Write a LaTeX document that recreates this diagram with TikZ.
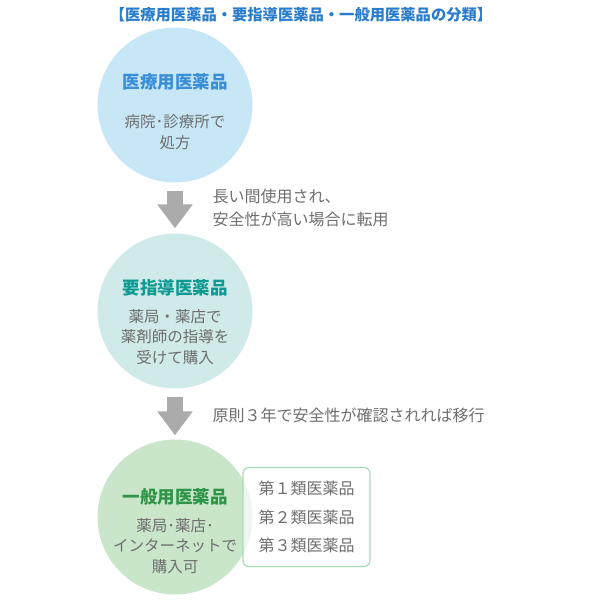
\documentclass[tikz,border=0pt]{standalone}
\usepackage{fontspec}
\setmainfont{Noto Sans CJK JP}
\usepackage{tikz}
\usetikzlibrary{arrows.meta,positioning}

\definecolor{titleblue}{HTML}{2A7DCC}
\definecolor{headblue}{HTML}{3A8ED6}
\definecolor{headteal}{HTML}{0E9A92}
\definecolor{headgreen}{HTML}{2E9447}
\definecolor{fillblue}{HTML}{C7E7F7}
\definecolor{fillteal}{HTML}{CFEAE8}
\definecolor{fillgreen}{HTML}{C9E6CB}
\definecolor{boxline}{HTML}{A9DAB6}
\definecolor{arrowgray}{HTML}{ABABAB}
\definecolor{graytext}{HTML}{6E6E6E}

\begin{document}
\begin{tikzpicture}[x=1pt, y=-1pt,
    every node/.style={font=\fontsize{15.5}{20.5}\selectfont, text=graytext},
    kind/.style={circle, minimum size=155pt, inner sep=0pt},
    head/.style={font=\bfseries\fontsize{17.5}{20}\selectfont},
    body/.style={align=center},
    flow/.style={draw=arrowgray, line width=16pt, -{Triangle[width=34pt,length=24pt]}}]
    \useasboundingbox (0,0) rectangle (600,600);

    % Title
    \node[font=\bfseries\fontsize{15.3}{18}\selectfont, text=titleblue] (title) at (301,15)
        {【医療用医薬品・要指導医薬品・一般用医薬品の分類】};

    % Circles (one per class)
    \node[kind, fill=fillblue] (c1) at (175,105) {};
    \node[kind, fill=fillteal] (c2) at (175,311) {};
    \node[kind, fill=fillgreen] (c3) at (175,517) {};

    % Sub-classes box (laid over the green circle)
    \node[draw=boxline, line width=1.2pt, fill=white, fill opacity=0.7, text opacity=1,
          rounded corners=6pt, minimum width=127pt, minimum height=99pt,
          align=left, font=\fontsize{16}{28.5}\selectfont] (sub) at (306.5,517)
        {第１類医薬品\\第２類医薬品\\第３類医薬品};

    % Texts inside the circles
    \node[head, text=headblue] (h1) at (175,82) {医療用医薬品};
    \node[body] (b1) at (175,132) {病院･診療所で\\処方};

    \node[head, text=headteal] (h2) at (175,288) {要指導医薬品};
    \node[body] (b2) at (175,337) {薬局・薬店で\\薬剤師の指導を\\受けて購入};

    \node[head, text=headgreen] (h3) at (175,497) {一般用医薬品};
    \node[body] (b3) at (175,546) {薬局･薬店･\\インターネットで\\購入可};

    % Arrows between the classes
    \draw[flow, shorten <=8pt, shorten >=5pt] (c1) -- (c2);
    \draw[flow, shorten <=8pt, shorten >=4pt] (c2) -- (c3);

    % Transition conditions
    \node[anchor=west, align=left, font=\fontsize{16}{23}\selectfont] (t1) at (209,208)
        {長い間使用され、\\安全性が高い場合に転用};
    \node[anchor=west, font=\fontsize{16}{23}\selectfont] (t2) at (209,415)
        {原則３年で安全性が確認されれば移行};
\end{tikzpicture}
\end{document}
